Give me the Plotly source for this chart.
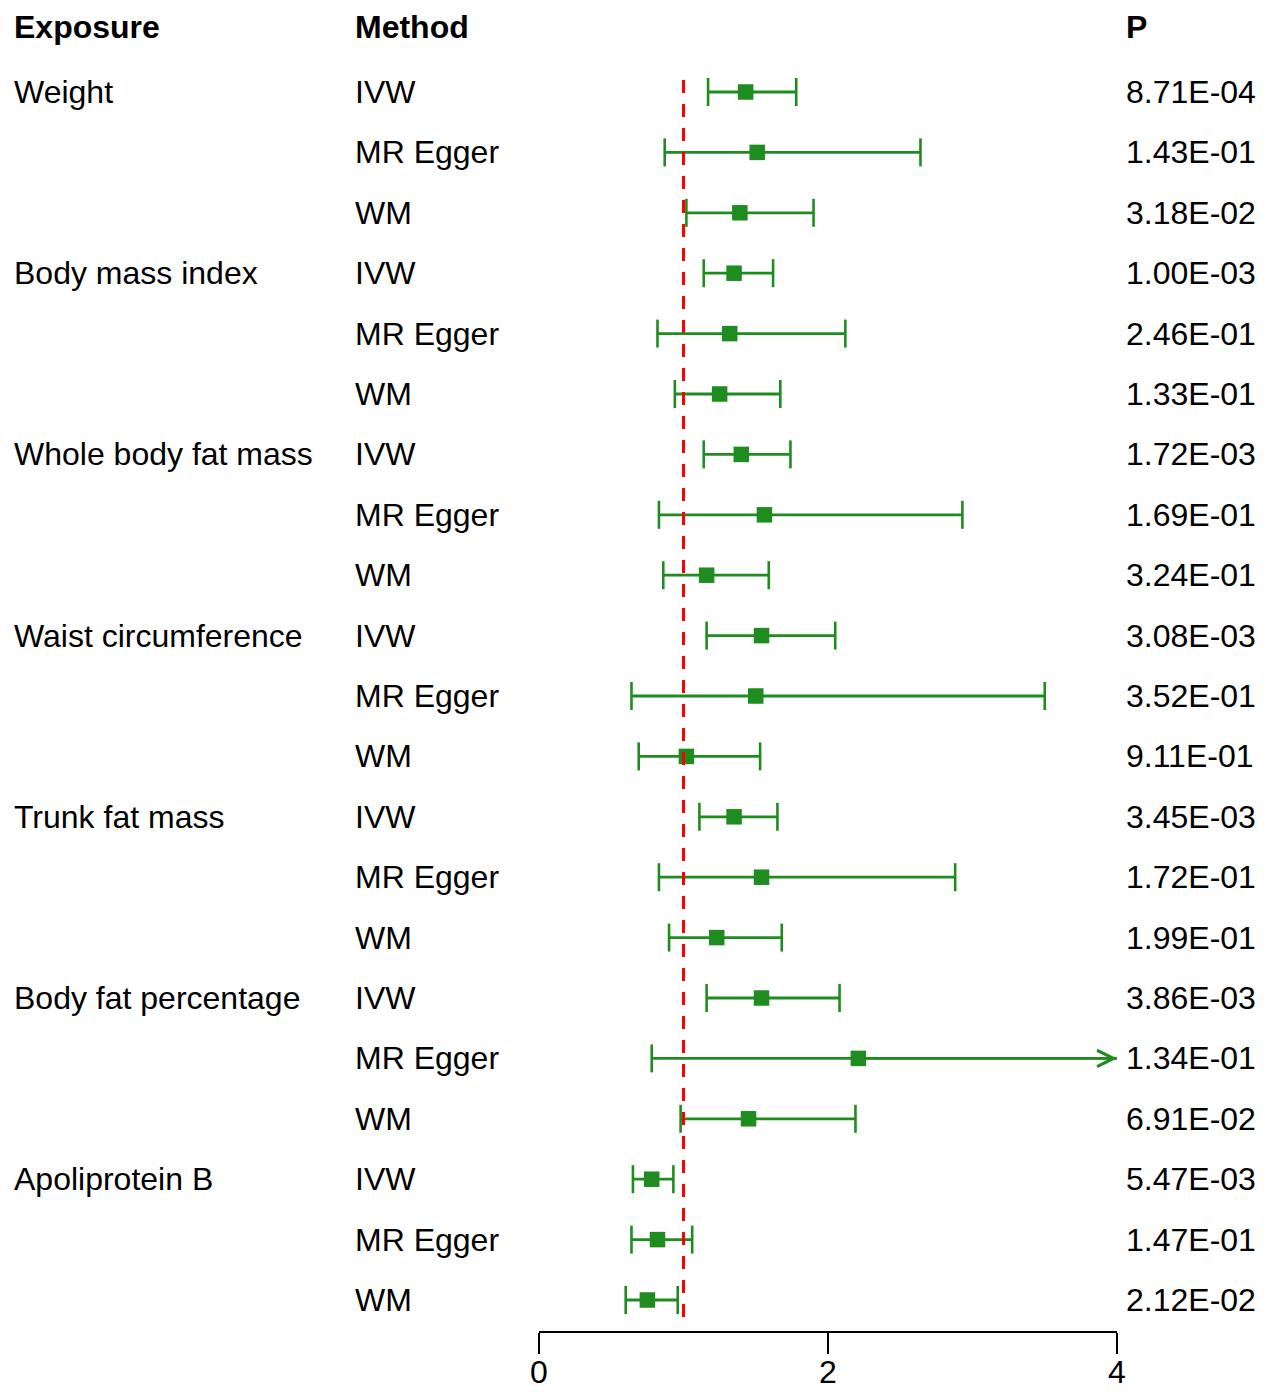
import plotly.graph_objects as go

# forest plot: MR estimates (OR with 95% CI) per exposure / method
exposures = ["Weight", "Body mass index", "Whole body fat mass", "Waist circumference",
             "Trunk fat mass", "Body fat percentage", "Apoliprotein B"]
methods = ["IVW", "MR Egger", "WM"]

odds = [1.43, 1.51, 1.39,
        1.35, 1.32, 1.25,
        1.40, 1.56, 1.16,
        1.54, 1.50, 1.02,
        1.35, 1.54, 1.23,
        1.54, 2.21, 1.45,
        0.78, 0.82, 0.75]
lower = [1.17, 0.87, 1.02,
         1.14, 0.82, 0.94,
         1.14, 0.83, 0.86,
         1.16, 0.64, 0.69,
         1.11, 0.83, 0.90,
         1.16, 0.78, 0.98,
         0.65, 0.64, 0.60]
upper = [1.78, 2.64, 1.90,
         1.62, 2.12, 1.67,
         1.74, 2.93, 1.59,
         2.05, 3.50, 1.53,
         1.65, 2.88, 1.68,
         2.08, 6.23, 2.19,
         0.93, 1.06, 0.96]
pvals = ["8.71E-04", "1.43E-01", "3.18E-02",
         "1.00E-03", "2.46E-01", "1.33E-01",
         "1.72E-03", "1.69E-01", "3.24E-01",
         "3.08E-03", "3.52E-01", "9.11E-01",
         "3.45E-03", "1.72E-01", "1.99E-01",
         "3.86E-03", "1.34E-01", "6.91E-02",
         "5.47E-03", "1.47E-01", "2.12E-02"]

x_ticks = [0, 2, 4]
x_max = 4
ref_line = 1

GREEN = "#1f8c1f"
FONT = "Arial, Liberation Sans, sans-serif"
FS = 32

n = len(odds)
rows = list(range(n))

# page body has an 8px margin, so work in page pixels minus that
OFF = 8
W, H = 1270 - OFF, 1398 - OFF
row_h = 60.4
top_row = 92 - OFF
axis_px = 1331 - OFF
tick_lab_px = 1372 - OFF

def px_x(p):
    return (p - OFF) / W

# CI segments (clipped at the axis end)
seg_x, seg_y = [], []
cap_x, cap_y = [], []
for i in rows:
    hi = min(upper[i], x_max)
    seg_x += [lower[i], hi, None]
    seg_y += [i, i, None]
    cap_x.append(lower[i])
    cap_y.append(i)
    if upper[i] <= x_max:
        cap_x.append(upper[i])
        cap_y.append(i)

fig = go.Figure()
fig.add_trace(go.Scatter(x=seg_x, y=seg_y, mode="lines",
                         line=dict(color=GREEN, width=2.8), hoverinfo="skip"))
fig.add_trace(go.Scatter(x=cap_x, y=cap_y, mode="markers",
                         marker=dict(symbol="line-ns", size=20,
                                     line=dict(color=GREEN, width=2.6)),
                         hoverinfo="skip"))
fig.add_trace(go.Scatter(x=odds, y=rows, mode="markers",
                         marker=dict(symbol="square", size=15.5, color=GREEN)))

# arrows for truncated CIs
for i in rows:
    if upper[i] > x_max:
        fig.add_annotation(x=x_max, y=i, ax=odds[i], ay=i, xref="x", yref="y",
                           axref="x", ayref="y", text="", showarrow=True,
                           arrowhead=5, arrowsize=1.4, arrowwidth=2.3,
                           arrowcolor=GREEN, standoff=0)

fig.add_shape(type="line", x0=ref_line, x1=ref_line, y0=-0.2, y1=n - 0.72,
              xref="x", yref="y", line=dict(color="red", width=3, dash="13px,11px"))

# text columns (annotation box adds ~3px padding on the left)
header_y = -1.08
col_x = {"exp": px_x(12), "met": px_x(353), "p": px_x(1124)}
for key, label in [("exp", "Exposure"), ("met", "Method"), ("p", "P")]:
    fig.add_annotation(x=col_x[key], y=header_y, xref="paper", yref="y",
                       text="<b>" + label + "</b>", showarrow=False,
                       xanchor="left", yanchor="middle",
                       font=dict(family=FONT, size=FS, color="black"))

for i in rows:
    if i % len(methods) == 0:
        fig.add_annotation(x=col_x["exp"], y=i, xref="paper", yref="y",
                           text=exposures[i // len(methods)], showarrow=False,
                           xanchor="left", yanchor="middle",
                           font=dict(family=FONT, size=FS, color="black"))
    fig.add_annotation(x=col_x["met"], y=i, xref="paper", yref="y",
                       text=methods[i % len(methods)], showarrow=False,
                       xanchor="left", yanchor="middle",
                       font=dict(family=FONT, size=FS, color="black"))
    fig.add_annotation(x=col_x["p"], y=i, xref="paper", yref="y",
                       text=pvals[i], showarrow=False,
                       xanchor="left", yanchor="middle",
                       font=dict(family=FONT, size=FS, color="black"))

# tick labels placed by hand under the ticks
for t in x_ticks:
    fig.add_annotation(x=t, y=(H - tick_lab_px) / H, xref="x", yref="paper",
                       text=str(t), showarrow=False, xanchor="center", yanchor="middle",
                       font=dict(family=FONT, size=FS, color="black"))

fig.update_layout(
    width=W, height=H,
    margin=dict(l=0, r=0, t=0, b=0),
    paper_bgcolor="white", plot_bgcolor="white",
    showlegend=False,
    xaxis=dict(range=[0, x_max], domain=[px_x(539), px_x(1117)],
               tickvals=x_ticks, showticklabels=False,
               ticks="outside", ticklen=21, tickwidth=1.6,
               tickcolor="black", showline=True, linecolor="black", linewidth=1.6,
               showgrid=False, zeroline=False),
    yaxis=dict(range=[(axis_px - top_row) / row_h, -top_row / row_h],
               domain=[(H - axis_px) / H, 1],
               visible=False, showgrid=False, zeroline=False),
)

fig.write_html("out.html")
